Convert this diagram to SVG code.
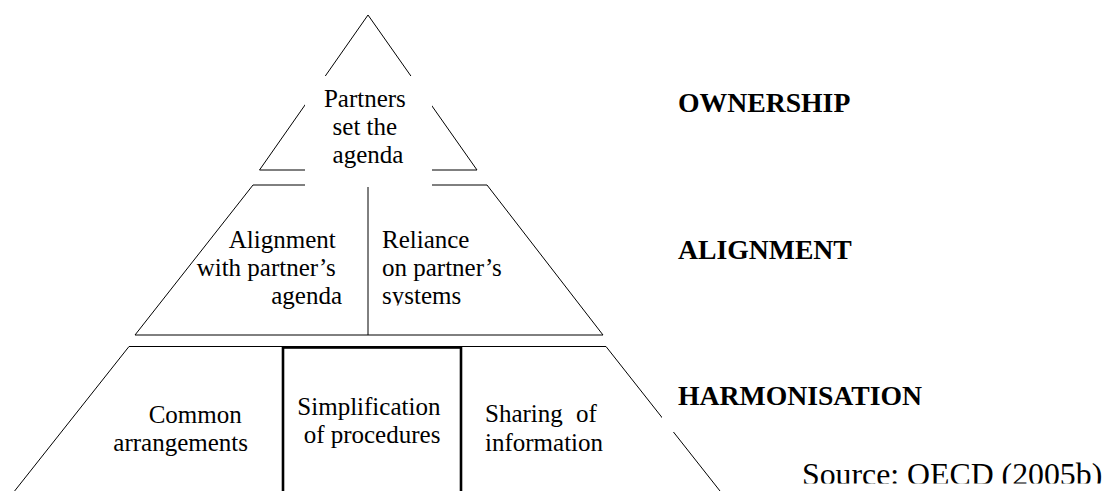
<svg xmlns="http://www.w3.org/2000/svg" width="1105" height="491" viewBox="0 0 1105 491">
  <style>
    .ln { fill: none; stroke: #000; stroke-width: 1; }
    .thick { fill: none; stroke: #000; stroke-width: 2.6; }
    .t { font-family: "Liberation Serif", "Times New Roman", serif; font-size: 25px; fill: #000; }
    .lab { font-family: "Liberation Serif", "Times New Roman", serif; font-size: 27.7px; font-weight: bold; fill: #000; }
    .src { font-family: "Liberation Serif", "Times New Roman", serif; font-size: 31.8px; fill: #000; }
    .mask { fill: #fff; stroke: none; }
  </style>
  <defs>
    <clipPath id="clipRel">
      <rect x="370" y="190" width="200" height="115.5"/>
    </clipPath>
    <clipPath id="clipSrc">
      <rect x="780" y="430" width="325" height="53.5"/>
    </clipPath>
  </defs>
  <rect width="1105" height="491" fill="#fff"/>

  <!-- Tier 2: alignment trapezoid -->
  <g id="tier-alignment">
    <polygon class="ln" points="253,185 487,185 603,335 135,335"/>
    <line class="ln" x1="368" y1="187" x2="368" y2="335"/>
    <text class="t" text-anchor="end">
      <tspan x="342" y="248">Alignment</tspan>
      <tspan x="342" y="276">with partner’s</tspan>
      <tspan x="342" y="304">agenda</tspan>
    </text>
    <g clip-path="url(#clipRel)">
      <text class="t">
        <tspan x="382" y="248">Reliance</tspan>
        <tspan x="382" y="276">on partner’s</tspan>
        <tspan x="382" y="304">systems</tspan>
      </text>
    </g>
  </g>

  <!-- Tier 1: ownership triangle -->
  <g id="tier-ownership">
    <polygon class="ln" points="368,15 477,170 259.5,170"/>
    <rect class="mask" x="305" y="76" width="127" height="111"/>
    <text class="t" text-anchor="middle">
      <tspan x="368" y="107">Partners</tspan>
      <tspan x="368" y="135">set the</tspan>
      <tspan x="368" y="163">agenda</tspan>
    </text>
  </g>

  <!-- Tier 3: harmonisation trapezoid -->
  <g id="tier-harmonisation">
    <polyline class="ln" points="14.6,491 129,346.5 606,346.5 720,491"/>
    <rect class="thick" x="283" y="347.5" width="178" height="150"/>
    <text class="t" text-anchor="end">
      <tspan x="248" y="422.5">Common</tspan>
      <tspan x="248" y="450.5">arrangements</tspan>
    </text>
    <text class="t" text-anchor="middle">
      <tspan x="372" y="415">Simplification</tspan>
      <tspan x="372" y="443">of procedures</tspan>
    </text>
    <text class="t">
      <tspan x="485" y="422">Sharing</tspan><tspan x="576" y="422">of</tspan>
      <tspan x="485" y="450.5">information</tspan>
    </text>
  </g>

  <!-- Level labels -->
  <g id="labels">
    <rect class="mask" x="662" y="372" width="280" height="60"/>
    <text id="label-ownership" class="lab" x="678" y="112">OWNERSHIP</text>
    <text id="label-alignment" class="lab" x="678" y="259">ALIGNMENT</text>
    <text id="label-harmonisation" class="lab" x="678" y="405">HARMONISATION</text>
  </g>

  <g id="source" clip-path="url(#clipSrc)">
    <text class="src" x="802" y="485">Source: OECD (2005b)</text>
  </g>

  <g id="connectors"/>
</svg>
